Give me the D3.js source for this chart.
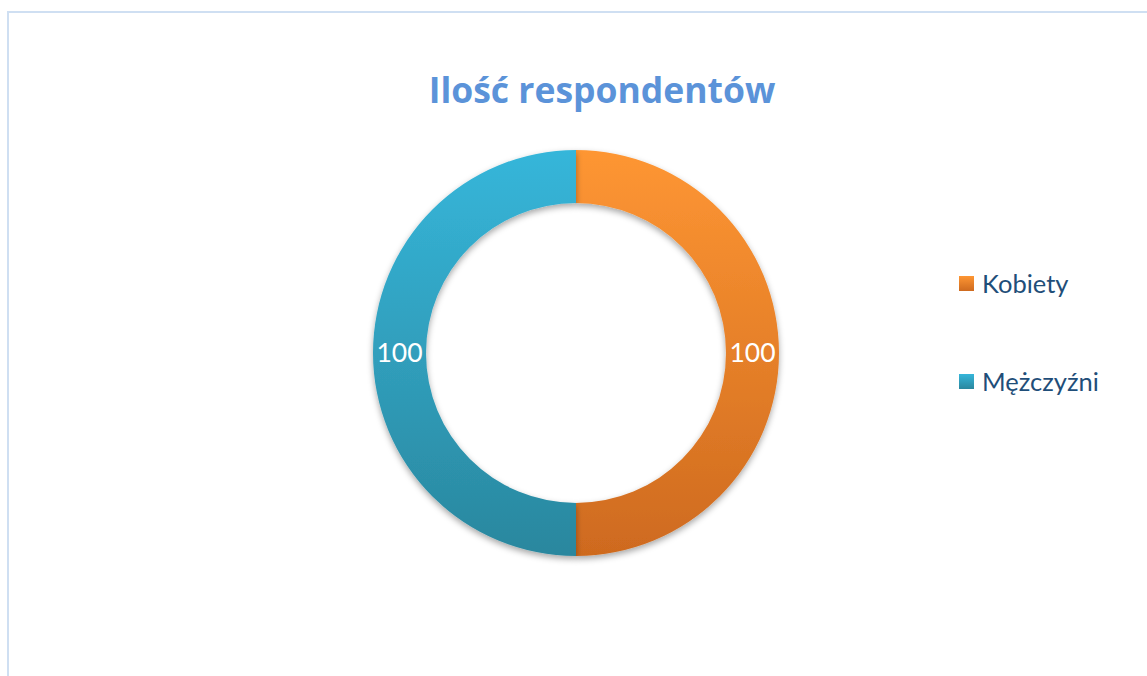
<!DOCTYPE html>
<html><head><meta charset="utf-8">
<script src="https://cdn.jsdelivr.net/npm/d3@7"></script>
<style>html,body{margin:0;padding:0;background:#fff;overflow:hidden}</style>
</head><body>
<svg id="chart" width="1147" height="676"></svg>
<script>
const title = "Ilość respondentów";
const categories = ["Kobiety", "Mężczyźni"];
const values = [100, 100];
const colorsTop = ["#fe9633", "#36b6da"];
const colorsBottom = ["#ce6a1f", "#2a879e"];

const svg = d3.select("#chart");
const defs = svg.append("defs");
categories.forEach((c, i) => {
  const g = defs.append("linearGradient").attr("id", "g" + i)
    .attr("gradientUnits", "userSpaceOnUse")
    .attr("x1", 0).attr("y1", -203).attr("x2", 0).attr("y2", 203);
  g.append("stop").attr("offset", "0%").attr("stop-color", colorsTop[i]);
  g.append("stop").attr("offset", "100%").attr("stop-color", colorsBottom[i]);
});
const f = defs.append("filter").attr("id", "sh").attr("x", "-20%").attr("y", "-20%").attr("width", "140%").attr("height", "140%");
f.append("feDropShadow").attr("dx", 0).attr("dy", 3).attr("stdDeviation", 3).attr("flood-color", "#000").attr("flood-opacity", 0.35);

// border
svg.append("path").attr("d", "M8,676 L8,12 L1147,12")
  .attr("fill", "none").attr("stroke", "#cfdff2").attr("stroke-width", 2);

svg.append("text").attr("x", 602).attr("y", 103).attr("text-anchor", "middle")
  .attr("font-family", "'Open Sans', Calibri, sans-serif").attr("font-weight", "bold")
  .attr("font-size", 35.5).attr("fill", "#5b93d9").text(title);

const cx = 576, cy = 353, rOuter = 203, rInner = 150;
const pie = d3.pie().sort(null).value(d => d)(values);
const arc = d3.arc().innerRadius(rInner).outerRadius(rOuter);
const g = svg.append("g").attr("transform", `translate(${cx},${cy})`);
g.selectAll("path").data(pie).join("path")
  .attr("d", arc).attr("fill", (d, i) => `url(#g${i})`).attr("filter", "url(#sh)");

const labelArc = d3.arc().innerRadius((rInner + rOuter) / 2).outerRadius((rInner + rOuter) / 2);
g.selectAll("text.lbl").data(pie).join("text").attr("class", "lbl")
  .attr("transform", d => `translate(${labelArc.centroid(d)})`)
  .attr("text-anchor", "middle").attr("dy", "0.35em")
  .attr("font-family", "Lato, Calibri, sans-serif").attr("font-size", 26.5)
  .attr("fill", "#fff").text(d => d.data);

const lg = svg.append("g");
categories.forEach((c, i) => {
  const y = 284 + i * 98;
  const lgg = defs.append("linearGradient").attr("id", "lg" + i).attr("x1", 0).attr("y1", 0).attr("x2", 0).attr("y2", 1);
  lgg.append("stop").attr("offset", "0%").attr("stop-color", colorsTop[i]);
  lgg.append("stop").attr("offset", "100%").attr("stop-color", colorsBottom[i]);
  lg.append("rect").attr("x", 959).attr("y", y - 8).attr("width", 15).attr("height", 15)
    .attr("fill", `url(#lg${i})`);
  lg.append("text").attr("x", 982).attr("y", y).attr("dy", "0.35em")
    .attr("font-family", "Lato, Calibri, sans-serif").attr("font-size", 25.5)
    .attr("fill", "#1f4e79").text(c);
});
</script>
</body></html>
